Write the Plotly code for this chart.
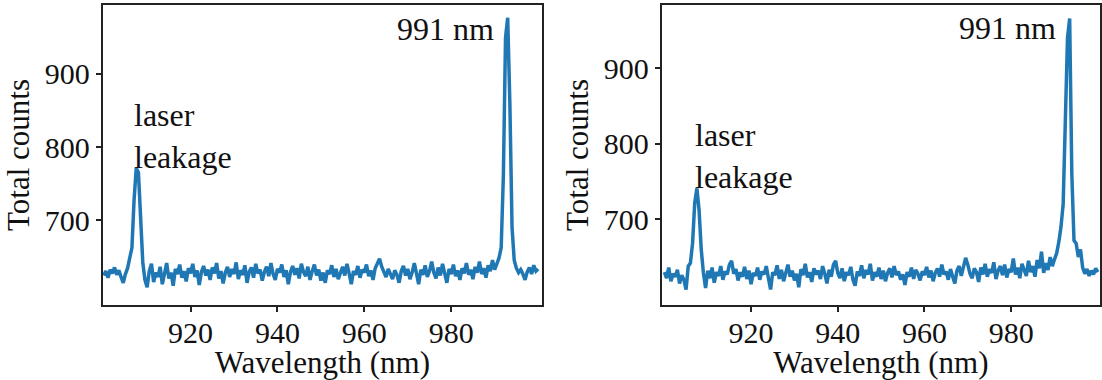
import numpy as np
import plotly.graph_objects as go

# wavelength grid (nm)
wl_start, wl_stop, wl_step = 900.0, 1000.0, 0.5
wavelength = np.arange(wl_start, wl_stop + wl_step / 2, wl_step)

counts_left = [
    624, 630, 621, 632, 627, 635, 625, 631, 622, 614,
    626, 634, 648, 662, 728, 771, 765, 690, 642, 618,
    608, 630, 640, 615, 628, 622, 636, 612, 630, 641,
    620, 628, 610, 633, 626, 639, 621, 630, 616, 634,
    627, 640, 622, 631, 611, 629, 637, 624, 632, 618,
    635, 627, 641, 620, 630, 613, 628, 636, 622, 633,
    626, 642, 619, 631, 625, 638, 614, 629, 635, 621,
    640, 627, 632, 617, 629, 636, 623, 641, 626, 618,
    633, 628, 639, 622, 631, 612, 629, 637, 625, 634,
    620, 640, 629, 623, 636, 618, 630, 639, 624, 632,
    617, 628, 614, 631, 626, 638, 622, 633, 619, 629,
    636, 624, 640, 627, 612, 630, 625, 637, 621, 632,
    628, 639, 623, 631, 618, 634, 641, 647, 636, 630,
    622, 633, 627, 619, 631, 625, 614, 630, 637, 624,
    633, 619, 628, 641, 627, 612, 632, 625, 638, 622,
    630, 643, 628, 620, 635, 624, 640, 629, 614, 633,
    626, 639, 623, 631, 618, 634, 627, 641, 625, 632,
    619, 636, 628, 643, 626, 634, 621, 638, 630, 645,
    632, 640, 648, 662, 760, 950, 977, 860, 690, 645,
    634, 628, 632, 626, 618, 629, 635, 626, 638, 630,
    633,
]

counts_right = [
    630, 622, 636, 618, 628, 624, 633, 615, 626, 620,
    607, 638, 642, 668, 722, 741, 712, 660, 629, 609,
    632, 622, 636, 616, 630, 625, 638, 620, 631, 627,
    640, 645, 628, 634, 619, 630, 624, 637, 621, 632,
    614, 629, 625, 636, 620, 631, 627, 638, 622, 607,
    630, 626, 639, 621, 633, 618, 629, 640, 624, 632,
    619, 628, 610, 634, 626, 641, 623, 630, 617, 635,
    627, 632, 621, 638, 628, 615, 633, 624, 640, 645,
    629, 622, 635, 618, 630, 626, 637, 620, 612, 631,
    625, 639, 622, 633, 627, 641, 619, 630, 624, 636,
    621, 632, 618, 629, 635, 623, 638, 626, 631, 620,
    627, 613, 630, 624, 636, 621, 633, 628, 619, 631,
    626, 637, 623, 632, 618, 629, 635, 624, 640, 627,
    631, 620, 634, 626, 615, 632, 638, 625, 636, 649,
    640, 628, 622, 635, 630, 617, 636, 627, 641, 624,
    634, 629, 643, 621, 632, 638, 626, 640, 623, 634,
    630, 648, 627, 636, 622, 641, 633, 625, 645, 630,
    638, 624, 646, 635, 657, 629, 642, 633, 650, 638,
    647, 655, 670, 690, 720, 850, 940, 966, 760, 672,
    668, 650, 660, 636, 628, 634, 625, 632, 627, 635,
    630,
]

x_ticks = [920, 940, 960, 980]
y_ticks = [700, 800, 900]
peak_label = "991 nm"
leak_label = "laser<br>leakage"
x_title = "Wavelength (nm)"
y_title = "Total counts"

W, H = 1102, 380
FONT = "Liberation Serif, Times New Roman, serif"
LINE = "#1f77b4"
AX = "#222222"
TXT = "#111111"

def px_x(p):
    return p / W

def px_y(p):
    return 1 - p / H

fig = go.Figure()
fig.add_trace(go.Scatter(x=wavelength, y=counts_left, mode="lines",
                         line=dict(color=LINE, width=3.5), xaxis="x", yaxis="y",
                         showlegend=False, hoverinfo="skip"))
fig.add_trace(go.Scatter(x=wavelength, y=counts_right, mode="lines",
                         line=dict(color=LINE, width=3.5), xaxis="x2", yaxis="y2",
                         showlegend=False, hoverinfo="skip"))

axis_common = dict(showgrid=False, zeroline=False, showline=True, linecolor=AX,
                   linewidth=2, mirror=True, ticks="outside", ticklen=5,
                   tickwidth=1.5, tickcolor=AX,
                   tickfont=dict(family=FONT, size=30, color=TXT))

xt = dict(family=FONT, size=31, color=TXT)

fig.update_layout(
    width=W, height=H,
    margin=dict(l=0, r=0, t=0, b=0),
    paper_bgcolor="white", plot_bgcolor="white",
    font=dict(family=FONT, size=30, color=TXT),
    xaxis=dict(domain=[px_x(103), px_x(543)], range=[899.8, 1000.9],
               tickvals=x_ticks, anchor="y", ticklabelstandoff=-5,
               title=dict(text=x_title, standoff=8, font=xt),
               **axis_common),
    yaxis=dict(domain=[px_y(305), px_y(5)], range=[583.6, 994.5],
               tickvals=y_ticks, anchor="x",
               title=dict(text=y_title, standoff=6, font=xt),
               **axis_common),
    xaxis2=dict(domain=[px_x(663), 1.0], range=[899.4, 1000.5],
                tickvals=x_ticks, anchor="y2", ticklabelstandoff=-5,
                title=dict(text=x_title, standoff=8, font=xt),
                **axis_common),
    yaxis2=dict(domain=[px_y(305), px_y(5)], range=[586.5, 983.8],
                tickvals=y_ticks, anchor="x2",
                title=dict(text=y_title, standoff=6, font=xt),
                **axis_common),
    annotations=[
        dict(x=906.5, y=815, xref="x", yref="y", text=leak_label,
             showarrow=False, xanchor="left", yanchor="middle", align="left",
             font=dict(family=FONT, size=32, color=TXT)),
        dict(x=990.4, y=961, xref="x", yref="y", text=peak_label,
             showarrow=False, xanchor="right", yanchor="middle",
             font=dict(family=FONT, size=32, color=TXT)),
        dict(x=906.5, y=784, xref="x2", yref="y2", text=leak_label,
             showarrow=False, xanchor="left", yanchor="middle", align="left",
             font=dict(family=FONT, size=32, color=TXT)),
        dict(x=990.7, y=954, xref="x2", yref="y2", text=peak_label,
             showarrow=False, xanchor="right", yanchor="middle",
             font=dict(family=FONT, size=32, color=TXT)),
    ],
)

fig.write_html("out.html")
